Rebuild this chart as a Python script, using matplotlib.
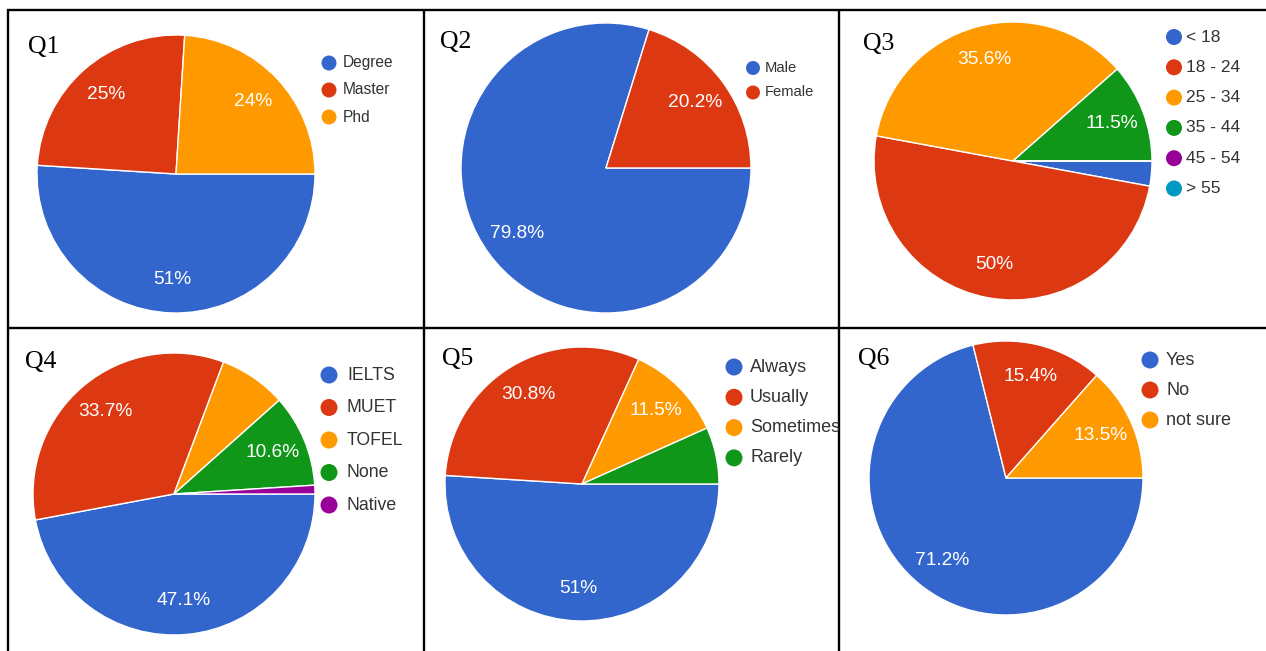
import numpy as np
import matplotlib
matplotlib.use("Agg")
import matplotlib.pyplot as plt

# ── Data (percent of respondents, as shown on the slices) ─────────────────────
q1_labels = ["Degree", "Master", "Phd"]
q1_values = [51, 25, 24]

q2_labels = ["Male", "Female"]
q2_values = [79.8, 20.2]

q3_labels = ["< 18", "18 - 24", "25 - 34", "35 - 44", "45 - 54", "> 55"]
q3_values = [2.9, 50, 35.6, 11.5, 0, 0]

q4_labels = ["IELTS", "MUET", "TOFEL", "None", "Native"]
q4_values = [47.1, 33.7, 7.7, 10.6, 1.0]

q5_labels = ["Always", "Usually", "Sometimes", "Rarely"]
q5_values = [51, 30.8, 11.5, 6.7]

q6_labels = ["Yes", "No", "not sure"]
q6_values = [71.2, 15.4, 13.5]

_COLORS = ["#3366CC", "#DC3912", "#FF9900", "#109618", "#990099", "#0099C6"]

W, H = 1266, 651
COL_EDGES = [8, 424, 839, W]
ROW_EDGES = [10, 327, H]

# layout per panel: pie centre/radius, legend x/y/step, font sizes (pixels)
_PANELS = [
    dict(title="Q1", labels=q1_labels, values=q1_values, cx=176, cy=174, r=139,
         tx=28, ty=53, mx=329, lx=343, ly=63, step=27, lfs=11.2, ms=15),
    dict(title="Q2", labels=q2_labels, values=q2_values, cx=606, cy=168, r=145,
         tx=440, ty=48, mx=753, lx=765, ly=68, step=24.5, lfs=10.6, ms=14),
    dict(title="Q3", labels=q3_labels, values=q3_values, cx=1013, cy=161, r=139,
         tx=863, ty=50, mx=1174, lx=1186, ly=37, step=30.3, lfs=12.5, ms=16),
    dict(title="Q4", labels=q4_labels, values=q4_values, cx=174, cy=494, r=141,
         tx=25, ty=368, mx=329, lx=347, ly=375, step=32.5, lfs=12.7, ms=17),
    dict(title="Q5", labels=q5_labels, values=q5_values, cx=582, cy=484, r=137,
         tx=442, ty=365, mx=734, lx=750, ly=367, step=30.3, lfs=13, ms=17),
    dict(title="Q6", labels=q6_labels, values=q6_values, cx=1006, cy=478, r=137,
         tx=858, ty=365, mx=1150, lx=1166, ly=360, step=30, lfs=13, ms=17),
]

SANS = "Liberation Sans"
SERIF = "Liberation Serif"

fig = plt.figure(figsize=(W / 100, H / 100), dpi=100)

# background axes for the table grid lines (pixel coordinates, y down)
bg = fig.add_axes([0, 0, 1, 1])
bg.set_xlim(0, W)
bg.set_ylim(H, 0)
bg.axis("off")
line_kw = dict(color="black", linewidth=1.7, solid_capstyle="butt")
bg.axhline(9.5, xmin=7 / W, xmax=1, **line_kw)
bg.axhline(327.5, xmin=7 / W, xmax=1, **line_kw)
for x in (7.5, 424, 839):
    bg.axvline(x, ymin=0, ymax=1 - 9 / H, **line_kw)

for i, p in enumerate(_PANELS):
    row, col = divmod(i, 3)
    x0, x1 = COL_EDGES[col], COL_EDGES[col + 1]
    y0, y1 = ROW_EDGES[row], ROW_EDGES[row + 1]
    ax = fig.add_axes([x0 / W, 1 - y1 / H, (x1 - x0) / W, (y1 - y0) / H])

    vals = p["values"]
    cols = _COLORS[:len(vals)]
    # y axis runs downwards, so counterclock=True draws clockwise on screen
    wedges, _ = ax.pie(vals, colors=cols, center=(p["cx"], p["cy"]), radius=p["r"],
                       startangle=0, counterclock=True,
                       wedgeprops=dict(edgecolor="white", linewidth=1.0))
    ax.set_xlim(x0, x1)
    ax.set_ylim(y1, y0)
    ax.set_aspect("auto")
    ax.axis("off")

    for w, v in zip(wedges, vals):
        if v >= 10:
            ang = np.deg2rad((w.theta1 + w.theta2) / 2)
            d = 0.76 * p["r"]
            ax.text(p["cx"] + d * np.cos(ang), p["cy"] + d * np.sin(ang),
                    f"{v:g}%", color="white", fontsize=13.8, family=SANS,
                    ha="center", va="center")

    # legend drawn by hand so it can be clipped at the cell border
    ys = p["ly"] + p["step"] * np.arange(len(vals))
    ax.scatter(np.full(len(vals), p["mx"]), ys, s=(p["ms"] * 0.72) ** 2,
               c=cols, linewidths=0, clip_on=True, zorder=3)
    for lab, y in zip(p["labels"], ys):
        ax.text(p["lx"], y, lab, fontsize=p["lfs"], family=SANS, color="#333333",
                ha="left", va="center", clip_on=True)

    ax.text(p["tx"], p["ty"], p["title"], fontsize=18.5, family=SERIF,
            color="black", ha="left", va="baseline")

fig.savefig("out.png", dpi=100)
